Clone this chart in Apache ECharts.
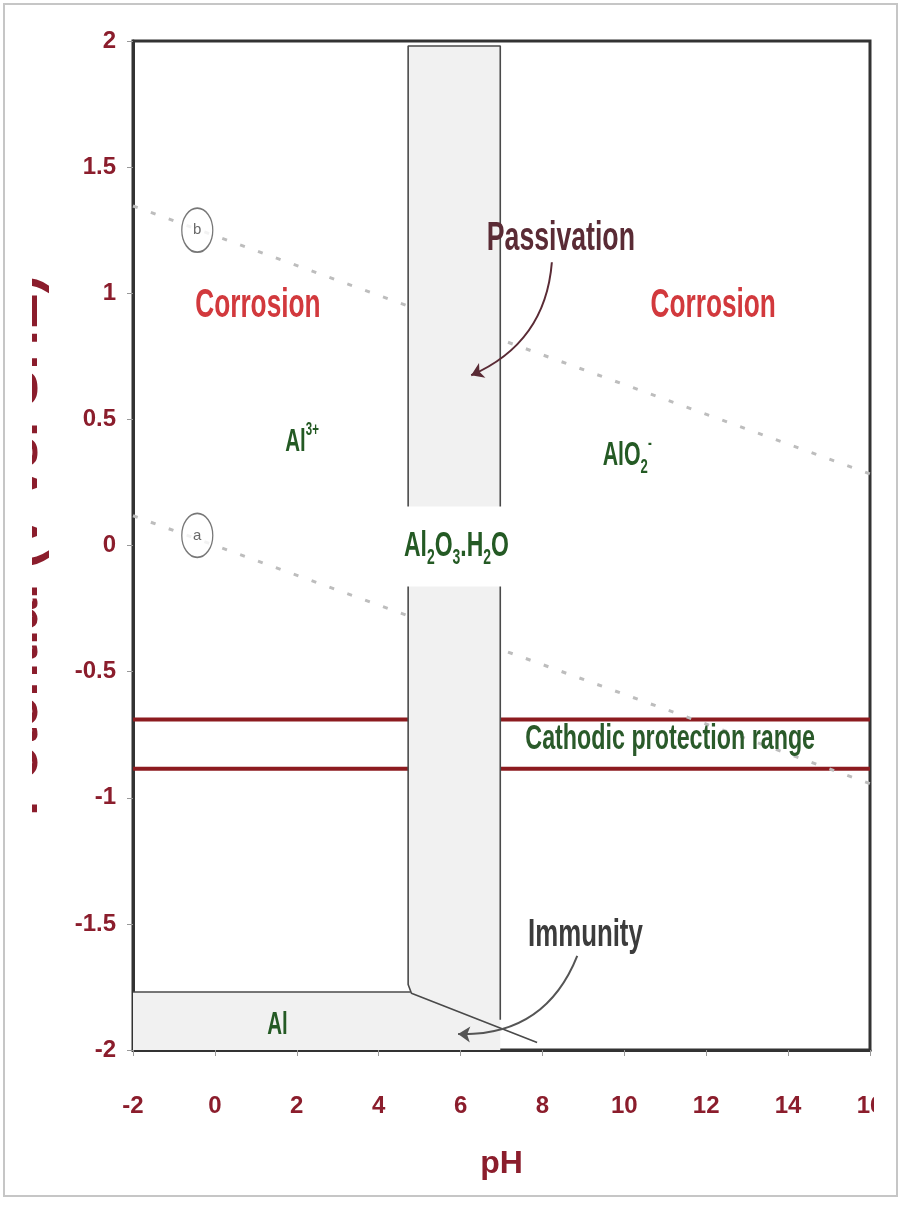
<!DOCTYPE html>
<html>
<head>
<meta charset="utf-8">
<script src="https://cdn.jsdelivr.net/npm/echarts@6/dist/echarts.min.js"></script>
<style>
html,body{margin:0;padding:0;background:#fff;}
#main{width:902px;height:1205px;}
</style>
</head>
<body>
<div id="main"></div>
<script>
// ---- axis ticks ----
const pHTicks = [-2, 0, 2, 4, 6, 8, 10, 12, 14, 16];
const ETicks = [-2, -1.5, -1, -0.5, 0, 0.5, 1, 1.5, 2];

// ---- water stability lines (dotted) ----
const lineA_pH = [-2, 16];
const lineA_E = [0.118, -0.944];
const lineB_pH = [-2, 16];
const lineB_E = [1.346, 0.284];

// ---- cathodic protection range ----
const cathodicPH = [-2, 16];
const cathodicTopE = -0.69;
const cathodicBottomE = -0.885;

// ---- passivation band (Al2O3.H2O) ----
const bandFillPH = [4.72, 6.97, 6.97, 4.80, 4.72];
const bandFillE = [1.98, 1.98, -1.913, -1.775, -1.74];
const bandEdgePH = [6.97, 6.97, 4.72, 4.72, 4.80, 7.87];
const bandEdgeE = [-1.88, 1.98, 1.98, -1.74, -1.775, -1.97];

// ---- immunity region (Al) ----
const alFillPH = [-2, -2, 4.78, 6.97, 6.97];
const alFillE = [-2, -1.77, -1.77, -1.913, -2];
const alEdgePH = [-2, 4.78];
const alEdgeE = [-1.77, -1.77];

// ---- circled line markers ----
const circleLabels = ['b', 'a'];
const circlePH = [-0.43, -0.43];
const circleE = [1.25, 0.04];

// ---- arrows ----
const arrowFromPH = [8.23, 8.85];
const arrowFromE = [1.123, -1.627];
const arrowToPH = [6.26, 5.94];
const arrowToE = [0.675, -1.937];
const arrowColors = ['#5a2b35', '#555555'];

// ---- annotations ----
const noteText = ['Corrosion', 'Corrosion', 'Passivation', '{b|Al}{sup|3+}', '{b|AlO}{sub|2}{sup|-}',
  '{b|Al}{sub|2}{b|O}{sub|3}{b|.H}{sub|2}{b|O}', 'Cathodic protection range', 'Immunity', 'Al'];
const notePH = [1.05, 12.17, 8.45, 2.13, 10.07, 5.90, 11.12, 9.05, 1.53];
const noteE = [0.948, 0.948, 1.214, 0.409, 0.353, -0.004, -0.769, -1.546, -1.901];
const noteSize = [32, 32, 32.5, 25, 26, 28, 28.4, 31.5, 25];
const noteColor = ['#d2393d', '#d2393d', '#5a2b35', '#245a24', '#245a24', '#245a24', '#2a5a2a', '#3c3c3c', '#245a24'];
const noteBg = [null, null, null, null, null, '#ffffff', null, null, null];

const axisRed = '#8b1d2c';
const narrow = "'Liberation Sans Narrow', 'Liberation Sans', Arial, sans-serif";

function pairs(xs, ys) { return xs.map((x, i) => [x, ys[i]]); }

function polygonSeries(xs, ys, z) {
  return {
    type: 'custom', z: z, silent: true, animation: false,
    data: [[xs[0], ys[0]]],
    renderItem: function (params, api) {
      return { type: 'polygon', shape: { points: xs.map((x, i) => api.coord([x, ys[i]])) },
               style: { fill: '#f1f1f1', stroke: null } };
    }
  };
}

const chart = echarts.init(document.getElementById('main'), null, { renderer: 'canvas' });

const option = {
  animation: false,
  backgroundColor: '#ffffff',
  grid: { left: 133, right: 32, top: 41, bottom: 155, show: true, borderColor: '#333', borderWidth: 3,
          backgroundColor: 'transparent', containLabel: false, outerBoundsMode: 'none' },
  xAxis: {
    type: 'value', min: pHTicks[0], max: pHTicks[pHTicks.length - 1], interval: pHTicks[1] - pHTicks[0],
    name: 'pH', nameLocation: 'middle', nameGap: 98,
    nameTextStyle: { color: axisRed, fontSize: 32, fontWeight: 'bold', fontFamily: narrow },
    axisLine: { show: true, onZero: false, lineStyle: { color: '#333', width: 3 } },
    axisTick: { show: true, inside: false, length: 6, lineStyle: { color: '#999', width: 1 } },
    axisLabel: { color: axisRed, fontSize: 24, fontWeight: 'bold', fontFamily: narrow, margin: 44 },
    splitLine: { show: false }
  },
  yAxis: {
    type: 'value', min: ETicks[0], max: ETicks[ETicks.length - 1], interval: ETicks[1] - ETicks[0],
    name: 'Potential (V vs. SHE)', nameLocation: 'middle', nameRotate: 90, nameGap: 84,
    nameTextStyle: { color: axisRed, fontSize: 55, fontWeight: 'bold', fontFamily: narrow },
    axisLine: { show: true, onZero: false, lineStyle: { color: '#333', width: 3 } },
    axisTick: { show: true, inside: false, length: 6, lineStyle: { color: '#999', width: 1 } },
    axisLabel: { color: axisRed, fontSize: 24, fontWeight: 'bold', fontFamily: narrow, margin: 17 },
    splitLine: { show: false }
  },
  series: [
    { type: 'line', z: 2, silent: true, symbol: 'none', data: pairs(cathodicPH, cathodicPH.map(() => cathodicTopE)),
      lineStyle: { color: '#8c1b1f', width: 4 } },
    { type: 'line', z: 2, silent: true, symbol: 'none', data: pairs(cathodicPH, cathodicPH.map(() => cathodicBottomE)),
      lineStyle: { color: '#8c1b1f', width: 4 } },
    { type: 'line', z: 2, silent: true, symbol: 'none', data: pairs(lineA_pH, lineA_E),
      lineStyle: { color: '#bdbdbd', width: 3, type: [5, 14] } },
    { type: 'line', z: 2, silent: true, symbol: 'none', data: pairs(lineB_pH, lineB_E),
      lineStyle: { color: '#bdbdbd', width: 3, type: [5, 14] } },
    polygonSeries(bandFillPH, bandFillE, 3),
    polygonSeries(alFillPH, alFillE, 3),
    { type: 'line', z: 4, silent: true, symbol: 'none', data: pairs(bandEdgePH, bandEdgeE),
      lineStyle: { color: '#4a4a4a', width: 1.6 } },
    { type: 'line', z: 4, silent: true, symbol: 'none', data: pairs(alEdgePH, alEdgeE),
      lineStyle: { color: '#4a4a4a', width: 1.6 } },
    { type: 'scatter', z: 5, silent: true, symbol: 'circle', symbolSize: [31, 44],
      data: pairs(circlePH, circleE),
      itemStyle: { color: '#ffffff', borderColor: '#555', borderWidth: 1.5 },
      label: { show: true, position: 'inside', color: '#444', fontSize: 15, fontFamily: 'Liberation Sans',
               formatter: p => circleLabels[p.dataIndex] } },
    { type: 'lines', coordinateSystem: 'cartesian2d', z: 6, silent: true,
      symbol: ['none', 'arrow'], symbolSize: 12,
      data: arrowFromPH.map((x, i) => ({
        coords: [[x, arrowFromE[i]], [arrowToPH[i], arrowToE[i]]],
        lineStyle: { color: arrowColors[i], width: 2, opacity: 1, curveness: i === 0 ? 0.3 : 0.35 }
      })),
      lineStyle: { width: 2, opacity: 1, curveness: 0.3 } }
  ]
};
chart.setOption(option);

const graphics = [
  { type: 'rect', z: 100, silent: true, shape: { x: 0, y: 0, width: 32, height: 1205 }, style: { fill: '#ffffff' } },
  { type: 'rect', z: 100, silent: true, shape: { x: 874, y: 6, width: 21, height: 1190 }, style: { fill: '#ffffff' } },
  { type: 'rect', z: 101, silent: true, shape: { x: 4, y: 4, width: 893, height: 1192 },
    style: { fill: null, stroke: '#c6c6c6', lineWidth: 2 } }
];
noteText.forEach((t, i) => {
  const p = chart.convertToPixel({ gridIndex: 0 }, [notePH[i], noteE[i]]);
  const s = noteSize[i];
  const base = { fontSize: s, fontWeight: 'bold', fontFamily: 'Liberation Sans', fill: noteColor[i] };
  const style = {
    text: t, x: 0, y: 0,
    fill: noteColor[i], fontSize: s, fontWeight: 'bold', fontFamily: 'Liberation Sans',
    align: 'center', verticalAlign: 'middle', textAlign: 'center', textVerticalAlign: 'middle',
    rich: {
      b: Object.assign({}, base, { lineHeight: s + 8, verticalAlign: 'middle' }),
      sub: Object.assign({}, base, { fontSize: Math.round(s * 0.6), verticalAlign: 'bottom', lineHeight: s + 8 }),
      sup: Object.assign({}, base, { fontSize: Math.round(s * 0.55), verticalAlign: 'top', lineHeight: s + 8 })
    }
  };
  if (noteBg[i]) { style.backgroundColor = noteBg[i]; style.padding = [14, 3, 14, 3]; }
  graphics.push({ type: 'text', z: 20, silent: true, x: p[0], y: p[1], scaleX: 0.82, scaleY: 1.25, style: style });
});
chart.setOption({ graphic: graphics });
</script>
</body>
</html>
